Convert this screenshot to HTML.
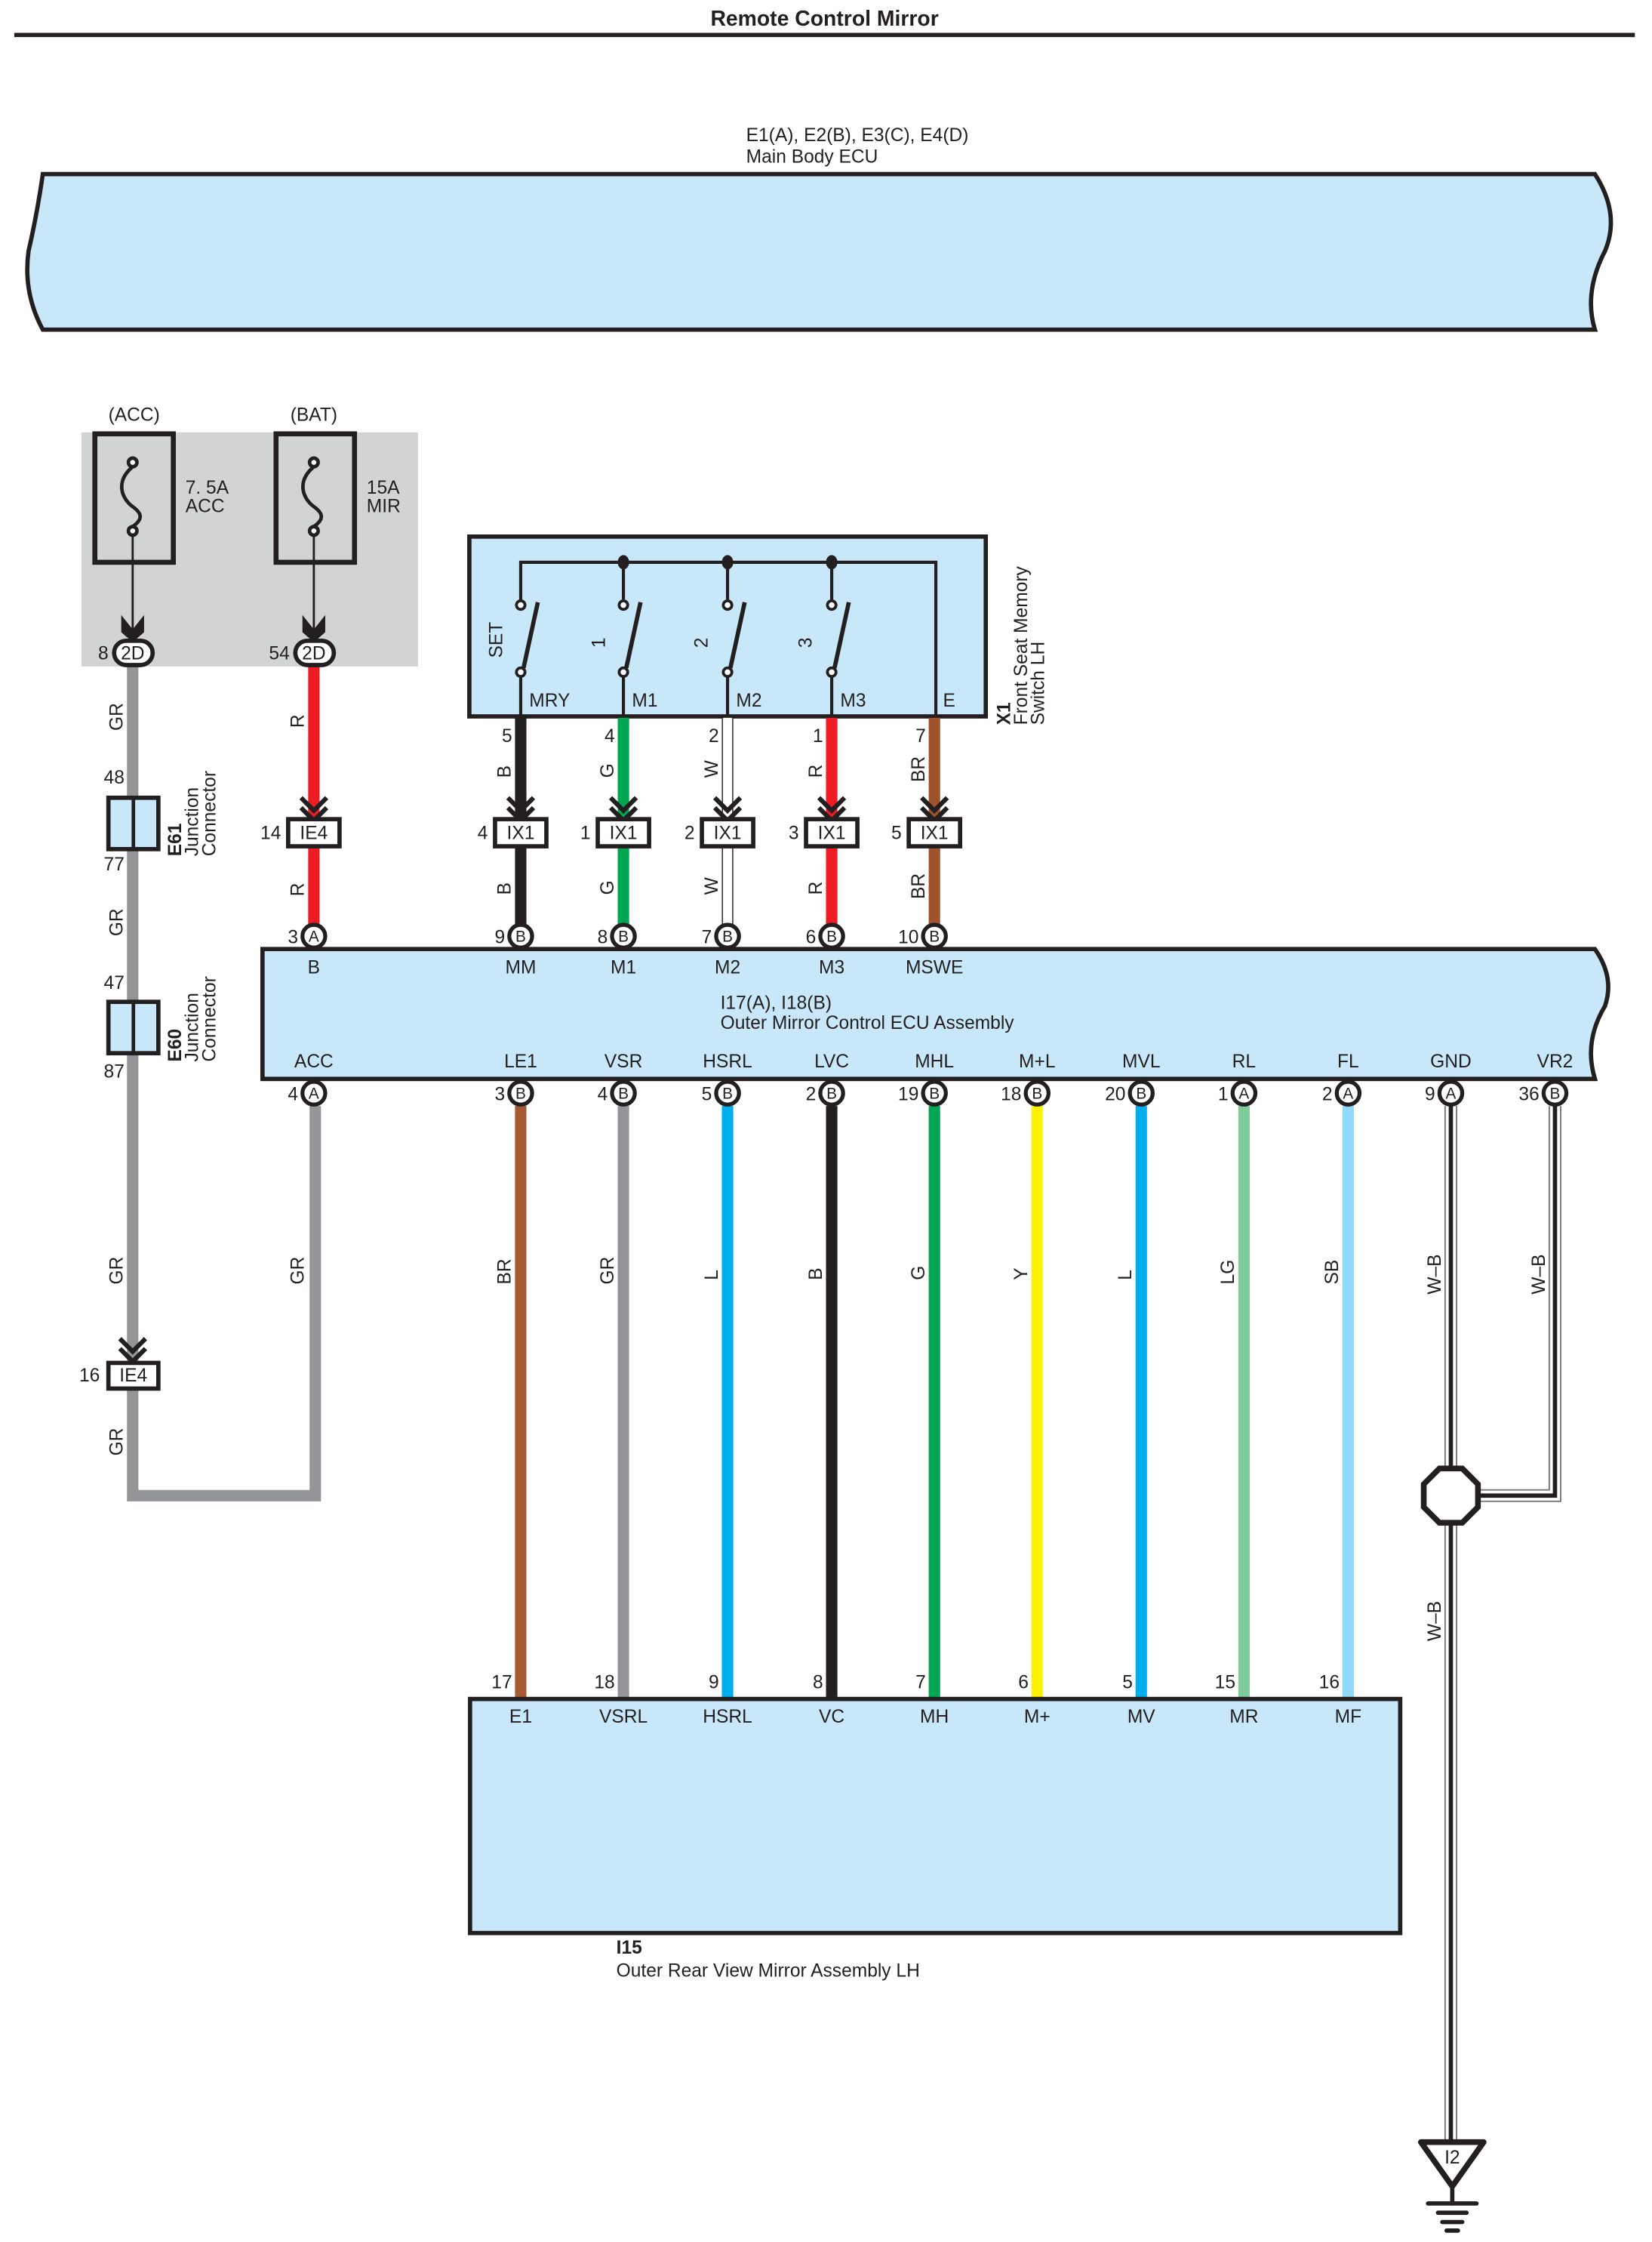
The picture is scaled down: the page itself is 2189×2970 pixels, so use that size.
<!DOCTYPE html>
<html><head><meta charset="utf-8"><style>
html,body{margin:0;padding:0;background:#fff}
svg{display:block}
text{font-family:"Liberation Sans",sans-serif;font-size:13px;fill:#231f20}
.b{font-weight:bold}
.c{text-anchor:middle}
.e{text-anchor:end}
</style></head><body>
<svg width="2189" height="2970" viewBox="0 0 1158 1571" preserveAspectRatio="none" xmlns="http://www.w3.org/2000/svg">
<defs>
<g id="chev"><path d="M-9,-15 L0,-6 L9,-15 M-9,-8 L0,1 L9,-8" fill="none" stroke="#231f20" stroke-width="3.2"/></g>
</defs>
<!-- title -->
<text x="578" y="18" class="b c" style="font-size:15px">Remote Control Mirror</text>
<line x1="10" y1="24.5" x2="1146" y2="24.5" stroke="#231f20" stroke-width="3"/>

<!-- Main body ECU -->
<text x="523" y="99">E1(A), E2(B), E3(C), E4(D)</text>
<text x="523" y="114">Main Body ECU</text>
<path d="M30,122 L1118,122 Q1136,150 1125,176 Q1110,205 1118,231 L30,231 Q16,205 20,176 Q26,150 30,122 Z" fill="#c8e8f9" stroke="#231f20" stroke-width="3"/>

<!-- fuse area -->
<rect x="57" y="303" width="236" height="164" fill="#d1d3d4"/>
<text x="94" y="295" class="c">(ACC)</text>
<text x="220" y="295" class="c">(BAT)</text>
<rect x="66.5" y="304" width="55" height="90" fill="none" stroke="#231f20" stroke-width="3.5"/>
<rect x="193.5" y="304" width="55" height="90" fill="none" stroke="#231f20" stroke-width="3.5"/>
<text x="130" y="346">7. 5A</text><text x="130" y="359">ACC</text>
<text x="257" y="346">15A</text><text x="257" y="359">MIR</text>
<g fill="none" stroke="#231f20" stroke-width="2.5">
<path d="M93,327 C80,338 86,350 93,355 C100,360 100,364 93,369"/>
<path d="M220,327 C207,338 213,350 220,355 C227,360 227,364 220,369"/>
<circle cx="93" cy="324" r="3" fill="#fff"/><circle cx="93" cy="372" r="3" fill="#fff"/>
<circle cx="220" cy="324" r="3" fill="#fff"/><circle cx="220" cy="372" r="3" fill="#fff"/>
</g>
<line x1="93" y1="375" x2="93" y2="442" stroke="#231f20" stroke-width="1.5"/>
<line x1="220" y1="375" x2="220" y2="442" stroke="#231f20" stroke-width="1.5"/>
<path d="M85,431 L93,441 L101,431 L101,443 L93,450 L85,443Z" fill="#231f20"/>
<path d="M212,431 L220,441 L228,431 L228,443 L220,450 L212,443Z" fill="#231f20"/>

<!-- GR wire left -->
<path d="M93,467 L93,1048 L221,1048 L221,775" fill="none" stroke="#939598" stroke-width="8"/>
<rect x="80" y="449" width="27" height="17" rx="8.5" fill="#fff" stroke="#231f20" stroke-width="3"/>
<text x="93" y="462" class="c">2D</text><text x="76" y="462" class="e">8</text>
<line x1="220" y1="467" x2="220" y2="576" stroke="#ed1c24" stroke-width="8"/>
<rect x="207" y="449" width="27" height="17" rx="8.5" fill="#fff" stroke="#231f20" stroke-width="3"/>
<text x="220" y="462" class="c">2D</text><text x="203" y="462" class="e">54</text>

<!-- junction connectors -->
<rect x="76" y="559" width="35" height="36" fill="#c8e8f9" stroke="#231f20" stroke-width="3"/>
<line x1="93.5" y1="559" x2="93.5" y2="595" stroke="#231f20" stroke-width="2.5"/>
<text x="80" y="549" class="c">48</text><text x="80" y="610" class="c">77</text>
<rect x="76" y="702" width="35" height="36" fill="#c8e8f9" stroke="#231f20" stroke-width="3"/>
<line x1="93.5" y1="702" x2="93.5" y2="738" stroke="#231f20" stroke-width="2.5"/>
<text x="80" y="693" class="c">47</text><text x="80" y="755" class="c">87</text>
<g transform="translate(127,600) rotate(-90)"><text x="0" y="0" class="b">E61</text><text x="0" y="12">Junction</text><text x="0" y="24">Connector</text></g>
<g transform="translate(127,744) rotate(-90)"><text x="0" y="0" class="b">E60</text><text x="0" y="12">Junction</text><text x="0" y="24">Connector</text></g>
<g transform="translate(86,512) rotate(-90)"><text>GR</text></g>
<g transform="translate(86,656) rotate(-90)"><text>GR</text></g>
<g transform="translate(86,900) rotate(-90)"><text>GR</text></g>
<g transform="translate(86,1020) rotate(-90)"><text>GR</text></g>
<g transform="translate(213,900) rotate(-90)"><text>GR</text></g>
<use href="#chev" x="93" y="953"/>
<rect x="76" y="955" width="35" height="18" fill="#fff" stroke="#231f20" stroke-width="3"/>
<text x="93.5" y="968" class="c">IE4</text><text x="70" y="968" class="e">16</text>

<!-- R wire -->
<line x1="220" y1="590" x2="220" y2="648" stroke="#ed1c24" stroke-width="8"/>
<g transform="translate(213,510) rotate(-90)"><text>R</text></g>
<g transform="translate(213,628) rotate(-90)"><text>R</text></g>
<use href="#chev" x="220" y="574"/>
<rect x="202" y="574" width="36" height="19" fill="#fff" stroke="#231f20" stroke-width="3"/>
<text x="220" y="588" class="c">IE4</text><text x="197" y="588" class="e">14</text>

<!-- switch box -->
<rect x="329" y="376" width="362" height="126" fill="#c8e8f9" stroke="#231f20" stroke-width="3"/>
<g fill="none" stroke="#231f20" stroke-width="2.2">
<path d="M365,423 L365,394 L656,394 L656,502"/>
<line x1="437" y1="394" x2="437" y2="420"/><line x1="510" y1="394" x2="510" y2="420"/><line x1="583" y1="394" x2="583" y2="420"/>
<line x1="365" y1="474" x2="365" y2="502"/><line x1="437" y1="474" x2="437" y2="502"/><line x1="510" y1="474" x2="510" y2="502"/><line x1="583" y1="474" x2="583" y2="502"/>
</g>
<g fill="none" stroke="#231f20" stroke-width="3">
<line x1="377" y1="422" x2="367" y2="468"/><line x1="449" y1="422" x2="439" y2="468"/><line x1="522" y1="422" x2="512" y2="468"/><line x1="595" y1="422" x2="585" y2="468"/>
</g>
<g fill="#fff" stroke="#231f20" stroke-width="2">
<circle cx="365" cy="424" r="3"/><circle cx="437" cy="424" r="3"/><circle cx="510" cy="424" r="3"/><circle cx="583" cy="424" r="3"/>
<circle cx="365" cy="471" r="3"/><circle cx="437" cy="471" r="3"/><circle cx="510" cy="471" r="3"/><circle cx="583" cy="471" r="3"/>
</g>
<g fill="#231f20"><ellipse cx="437" cy="394" rx="4" ry="5"/><ellipse cx="510" cy="394" rx="4" ry="5"/><ellipse cx="583" cy="394" rx="4" ry="5"/></g>
<g transform="translate(352,461) rotate(-90)"><text>SET</text></g>
<g transform="translate(424,454) rotate(-90)"><text>1</text></g>
<g transform="translate(496,454) rotate(-90)"><text>2</text></g>
<g transform="translate(569,454) rotate(-90)"><text>3</text></g>
<text x="371" y="495">MRY</text><text x="443" y="495">M1</text><text x="516" y="495">M2</text><text x="589" y="495">M3</text><text x="661" y="495">E</text>
<g transform="translate(708,508) rotate(-90)"><text class="b">X1</text><text x="0" y="12">Front Seat Memory</text><text x="0" y="24">Switch LH</text></g>

<!-- switch wires -->
<g stroke-width="8">
<line x1="365" y1="503" x2="365" y2="648" stroke="#231f20"/>
<line x1="437" y1="503" x2="437" y2="648" stroke="#00a651"/>
<line x1="583" y1="503" x2="583" y2="648" stroke="#ed1c24"/>
<line x1="655" y1="503" x2="655" y2="648" stroke="#a0522d"/>
</g>
<line x1="510" y1="503" x2="510" y2="648" stroke="#231f20" stroke-width="8"/>
<line x1="510" y1="503" x2="510" y2="648" stroke="#fff" stroke-width="6.5"/>
<text x="359" y="520" class="e">5</text><text x="431" y="520" class="e">4</text><text x="504" y="520" class="e">2</text><text x="577" y="520" class="e">1</text><text x="649" y="520" class="e">7</text>
<g transform="translate(358,545) rotate(-90)"><text>B</text></g>
<g transform="translate(430,545) rotate(-90)"><text>G</text></g>
<g transform="translate(503,545) rotate(-90)"><text>W</text></g>
<g transform="translate(576,545) rotate(-90)"><text>R</text></g>
<g transform="translate(648,548) rotate(-90)"><text>BR</text></g>
<g transform="translate(358,627) rotate(-90)"><text>B</text></g>
<g transform="translate(430,627) rotate(-90)"><text>G</text></g>
<g transform="translate(503,627) rotate(-90)"><text>W</text></g>
<g transform="translate(576,627) rotate(-90)"><text>R</text></g>
<g transform="translate(648,630) rotate(-90)"><text>BR</text></g>
<use href="#chev" x="365" y="574"/><use href="#chev" x="437" y="574"/><use href="#chev" x="510" y="574"/><use href="#chev" x="583" y="574"/><use href="#chev" x="655" y="574"/>
<g fill="#fff" stroke="#231f20" stroke-width="3">
<rect x="347" y="574" width="36" height="19"/><rect x="419" y="574" width="36" height="19"/><rect x="492" y="574" width="36" height="19"/><rect x="565" y="574" width="36" height="19"/><rect x="637" y="574" width="36" height="19"/>
</g>
<text x="365" y="588" class="c">IX1</text><text x="437" y="588" class="c">IX1</text><text x="510" y="588" class="c">IX1</text><text x="583" y="588" class="c">IX1</text><text x="655" y="588" class="c">IX1</text>
<text x="342" y="588" class="e">4</text><text x="414" y="588" class="e">1</text><text x="487" y="588" class="e">2</text><text x="560" y="588" class="e">3</text><text x="632" y="588" class="e">5</text>

<!-- Outer mirror ECU -->
<path d="M184,665 L1118,665 Q1132,685 1125,705 Q1110,730 1118,756 L184,756 Z" fill="#c8e8f9" stroke="#231f20" stroke-width="3"/>
<text x="220" y="682" class="c">B</text><text x="365" y="682" class="c">MM</text><text x="437" y="682" class="c">M1</text><text x="510" y="682" class="c">M2</text><text x="583" y="682" class="c">M3</text><text x="655" y="682" class="c">MSWE</text>
<text x="505" y="707">I17(A), I18(B)</text>
<text x="505" y="721">Outer Mirror Control ECU Assembly</text>
<g class="c">
<text x="220" y="748" class="c">ACC</text><text x="365" y="748" class="c">LE1</text><text x="437" y="748" class="c">VSR</text><text x="510" y="748" class="c">HSRL</text><text x="583" y="748" class="c">LVC</text><text x="655" y="748" class="c">MHL</text><text x="727" y="748" class="c">M+L</text><text x="800" y="748" class="c">MVL</text><text x="872" y="748" class="c">RL</text><text x="945" y="748" class="c">FL</text><text x="1017" y="748" class="c">GND</text><text x="1090" y="748" class="c">VR2</text>
</g>

<!-- lower wires -->
<g stroke-width="8">
<line x1="365" y1="775" x2="365" y2="1190" stroke="#a65a32"/>
<line x1="437" y1="775" x2="437" y2="1190" stroke="#939598"/>
<line x1="510" y1="775" x2="510" y2="1190" stroke="#00aeef"/>
<line x1="583" y1="775" x2="583" y2="1190" stroke="#231f20"/>
<line x1="655" y1="775" x2="655" y2="1190" stroke="#00a651"/>
<line x1="727" y1="775" x2="727" y2="1190" stroke="#fff200"/>
<line x1="800" y1="775" x2="800" y2="1190" stroke="#00aeef"/>
<line x1="872" y1="775" x2="872" y2="1190" stroke="#7fcc9a"/>
<line x1="945" y1="775" x2="945" y2="1190" stroke="#8ed8f8"/>
</g>
<!-- W-B -->
<g fill="none">
<path d="M1017,775 L1017,1500" stroke="#777" stroke-width="9"/>
<path d="M1090,775 L1090,1048 L1017,1048" stroke="#777" stroke-width="9"/>
<path d="M1017,775 L1017,1500" stroke="#fff" stroke-width="7"/>
<path d="M1090,775 L1090,1048 L1017,1048" stroke="#fff" stroke-width="7"/>
<path d="M1017,775 L1017,1500" stroke="#231f20" stroke-width="3"/>
<path d="M1090,775 L1090,1048 L1017,1048" stroke="#231f20" stroke-width="3"/>
</g>
<polygon points="1009,1029 1025,1029 1036,1040 1036,1056 1025,1067 1009,1067 998,1056 998,1040" fill="#fff" stroke="#231f20" stroke-width="4"/>

<g transform="translate(358,900) rotate(-90)"><text>BR</text></g>
<g transform="translate(430,900) rotate(-90)"><text>GR</text></g>
<g transform="translate(503,897) rotate(-90)"><text>L</text></g>
<g transform="translate(576,897) rotate(-90)"><text>B</text></g>
<g transform="translate(648,897) rotate(-90)"><text>G</text></g>
<g transform="translate(720,897) rotate(-90)"><text>Y</text></g>
<g transform="translate(793,897) rotate(-90)"><text>L</text></g>
<g transform="translate(865,900) rotate(-90)"><text>LG</text></g>
<g transform="translate(938,900) rotate(-90)"><text>SB</text></g>
<g transform="translate(1010,907) rotate(-90)"><text>W–B</text></g>
<g transform="translate(1083,907) rotate(-90)"><text>W–B</text></g>
<g transform="translate(1010,1150) rotate(-90)"><text>W–B</text></g>

<!-- pin circles -->
<g fill="#fff" stroke="#231f20" stroke-width="2.8">
<circle cx="220" cy="656" r="8"/><circle cx="365" cy="656" r="8"/><circle cx="437" cy="656" r="8"/><circle cx="510" cy="656" r="8"/><circle cx="583" cy="656" r="8"/><circle cx="655" cy="656" r="8"/>
<circle cx="220" cy="766" r="8"/><circle cx="365" cy="766" r="8"/><circle cx="437" cy="766" r="8"/><circle cx="510" cy="766" r="8"/><circle cx="583" cy="766" r="8"/><circle cx="655" cy="766" r="8"/><circle cx="727" cy="766" r="8"/><circle cx="800" cy="766" r="8"/><circle cx="872" cy="766" r="8"/><circle cx="945" cy="766" r="8"/><circle cx="1017" cy="766" r="8"/><circle cx="1090" cy="766" r="8"/>
</g>
<g style="font-size:11px">
<text x="220" y="660" class="c" style="font-size:11px">A</text><text x="365" y="660" class="c" style="font-size:11px">B</text><text x="437" y="660" class="c" style="font-size:11px">B</text><text x="510" y="660" class="c" style="font-size:11px">B</text><text x="583" y="660" class="c" style="font-size:11px">B</text><text x="655" y="660" class="c" style="font-size:11px">B</text>
<text x="220" y="770" class="c" style="font-size:11px">A</text><text x="365" y="770" class="c" style="font-size:11px">B</text><text x="437" y="770" class="c" style="font-size:11px">B</text><text x="510" y="770" class="c" style="font-size:11px">B</text><text x="583" y="770" class="c" style="font-size:11px">B</text><text x="655" y="770" class="c" style="font-size:11px">B</text><text x="727" y="770" class="c" style="font-size:11px">B</text><text x="800" y="770" class="c" style="font-size:11px">B</text><text x="872" y="770" class="c" style="font-size:11px">A</text><text x="945" y="770" class="c" style="font-size:11px">A</text><text x="1017" y="770" class="c" style="font-size:11px">A</text><text x="1090" y="770" class="c" style="font-size:11px">B</text>
</g>
<text x="209" y="661" class="e">3</text><text x="354" y="661" class="e">9</text><text x="426" y="661" class="e">8</text><text x="499" y="661" class="e">7</text><text x="572" y="661" class="e">6</text><text x="644" y="661" class="e">10</text>
<text x="209" y="771" class="e">4</text><text x="354" y="771" class="e">3</text><text x="426" y="771" class="e">4</text><text x="499" y="771" class="e">5</text><text x="572" y="771" class="e">2</text><text x="644" y="771" class="e">19</text><text x="716" y="771" class="e">18</text><text x="789" y="771" class="e">20</text><text x="861" y="771" class="e">1</text><text x="934" y="771" class="e">2</text><text x="1006" y="771" class="e">9</text><text x="1079" y="771" class="e">36</text>

<!-- mirror assembly -->
<rect x="329.5" y="1190.5" width="652" height="164" fill="#c8e8f9" stroke="#231f20" stroke-width="3"/>
<text x="359" y="1183" class="e">17</text><text x="431" y="1183" class="e">18</text><text x="504" y="1183" class="e">9</text><text x="577" y="1183" class="e">8</text><text x="649" y="1183" class="e">7</text><text x="721" y="1183" class="e">6</text><text x="794" y="1183" class="e">5</text><text x="866" y="1183" class="e">15</text><text x="939" y="1183" class="e">16</text>
<text x="365" y="1207" class="c">E1</text><text x="437" y="1207" class="c">VSRL</text><text x="510" y="1207" class="c">HSRL</text><text x="583" y="1207" class="c">VC</text><text x="655" y="1207" class="c">MH</text><text x="727" y="1207" class="c">M+</text><text x="800" y="1207" class="c">MV</text><text x="872" y="1207" class="c">MR</text><text x="945" y="1207" class="c">MF</text>
<text x="432" y="1369" class="b">I15</text>
<text x="432" y="1385">Outer Rear View Mirror Assembly LH</text>

<!-- ground -->
<polygon points="996,1501 1040,1501 1018,1532" fill="#fff" stroke="#231f20" stroke-width="4" stroke-linejoin="round"/>
<text x="1018" y="1516" class="c">I2</text>
<g stroke="#231f20" stroke-width="3" stroke-linecap="round">
<line x1="1018" y1="1532" x2="1018" y2="1544"/>
<line x1="1001" y1="1544" x2="1035" y2="1544"/>
<line x1="1008" y1="1550.5" x2="1028" y2="1550.5"/>
<line x1="1011" y1="1557" x2="1025" y2="1557"/>
<line x1="1014" y1="1563" x2="1022" y2="1563"/>
</g>
</svg>
</body></html>
